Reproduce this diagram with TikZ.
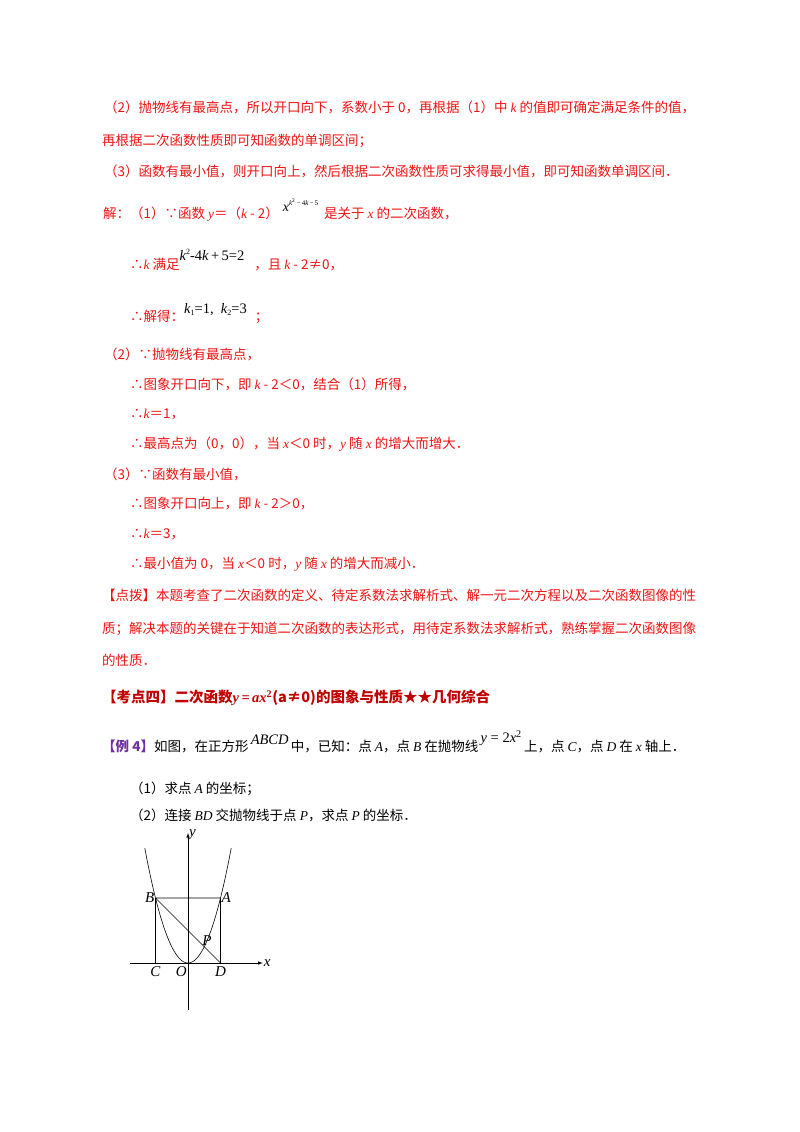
\documentclass[tikz,border=0pt]{standalone}
\usepackage{fontspec}
\setmainfont{Noto Sans CJK SC}
\newfontfamily\tm{Liberation Serif}
\newcommand\vv[1]{{\tm\itshape #1}}
\newcommand\rmn{\tm\upshape}
\definecolor{txtred}{RGB}{240,20,20}
\definecolor{headred}{RGB}{192,0,0}
\definecolor{purp}{RGB}{112,48,160}
\begin{document}
\begin{tikzpicture}[x=1pt,y=-1pt,
  t/.style={anchor=west,inner sep=0pt,font=\fontsize{13.5}{14}\selectfont},
  r/.style={t,text=txtred},
  k/.style={t,text=black},
  lab/.style={font=\tm\itshape\fontsize{15}{15}\selectfont,inner sep=1pt},
  ln/.style={line width=0.6pt}]
\fill[white] (0,0) rectangle (800,1132);
\useasboundingbox (0,0) rectangle (800,1132);
\node[r] (l1) at (104,107) {（2）抛物线有最高点，所以开口向下，系数小于 0，再根据（1）中 \vv{k} 的值即可确定满足条件的值，};
\node[r] (l2) at (102,141) {再根据二次函数性质即可知函数的单调区间；};
\node[r] (l3) at (104,171) {（3）函数有最小值，则开口向上，然后根据二次函数性质可求得最小值，即可知函数单调区间．};
\node[r] (l4) at (103,210) {解：（1）∵函数 \vv{y}＝（\vv{k} - 2）\hspace{4pt}\raisebox{7pt}{\textcolor{black}{\fontsize{14}{14}\selectfont\vv{x}\raisebox{6pt}{\fontsize{7}{7}\selectfont\vv{k}\textsuperscript{2}{\rmn\,−\,4}\vv{k}{\rmn\,−\,5}}}}\hspace{6pt}是关于 \vv{x} 的二次函数，};
\node[r] (l5) at (130,260) {∴\vv{k} 满足\raisebox{9pt}{\textcolor{black}{\fontsize{14.5}{14}\selectfont\vv{k}\raisebox{6pt}{\fontsize{8}{8}\selectfont\rmn 2}{\rmn -4}\vv{k}{\rmn\,+\,5=2}}}\hspace{10pt}，且 \vv{k} - 2≠0，};
\node[r] (l6) at (130,314) {∴解得：\raisebox{8pt}{\textcolor{black}{\fontsize{14.5}{14}\selectfont\vv{k}\raisebox{-2pt}{\fontsize{8}{8}\selectfont\rmn 1}{\rmn =1,\ \ }\vv{k}\raisebox{-2pt}{\fontsize{8}{8}\selectfont\rmn 2}{\rmn =3}}}\hspace{8pt}；};
\node[r] (m1) at (104,354) {（2）∵抛物线有最高点，};
\node[r] (m2) at (130,384) {∴图象开口向下，即 \vv{k} - 2＜0，结合（1）所得，};
\node[r] (m3) at (130,414) {∴\vv{k}＝1，};
\node[r] (m4) at (130,444) {∴最高点为（0，0），当 \vv{x}＜0 时，\vv{y} 随 \vv{x} 的增大而增大．};
\node[r] (m5) at (104,474) {（3）∵函数有最小值，};
\node[r] (m6) at (130,504) {∴图象开口向上，即 \vv{k} - 2＞0，};
\node[r] (m7) at (130,534) {∴\vv{k}＝3，};
\node[r] (m8) at (130,564) {∴最小值为 0，当 \vv{x}＜0 时，\vv{y} 随 \vv{x} 的增大而减小．};
\node[r] (d1) at (102,595) {【点拨】本题考查了二次函数的定义、待定系数法求解析式、解一元二次方程以及二次函数图像的性};
\node[r] (d2) at (102,629) {质；解决本题的关键在于知道二次函数的表达形式，用待定系数法求解析式，熟练掌握二次函数图像};
\node[r] (d3) at (102,660) {的性质．};
\node[t,text=headred,font=\bfseries\fontsize{14.5}{15}\selectfont] (h) at (102,698) {【考点四】二次函数\vv{y}\,{\rmn =}\,\vv{ax}\textsuperscript{\rmn 2}(a≠0)的图象与性质★★几何综合};
\node[k] (e1) at (102,742) {\textcolor{purp}{\bfseries【例 4】}如图，在正方形\,\raisebox{7pt}{\fontsize{14.5}{14}\selectfont\vv{ABCD}}\,中，已知：点 \vv{A}，点 \vv{B} 在抛物线\,\raisebox{9pt}{\fontsize{14.5}{14}\selectfont\vv{y}{\rmn\ = 2}\vv{x}\textsuperscript{\rmn 2}}\,上，点 \vv{C}，点 \vv{D} 在 \vv{x} 轴上．};
\node[k] (e2) at (130,789) {（1）求点 \vv{A} 的坐标；};
\node[k] (e3) at (130,815) {（2）连接 \vv{BD} 交抛物线于点 \vv{P}，求点 \vv{P} 的坐标．};
\begin{scope}[shift={(188pt,-963pt)},x=32.5pt,y=32.5pt]
  \coordinate (O) at (0,0);
  \coordinate (A) at (1,2);
  \coordinate (B) at (-1,2);
  \coordinate (C) at (-1,0);
  \coordinate (D) at (1,0);
  \coordinate (P) at (0.5,0.5);
  \coordinate (xs) at (-1.78,0);
  \coordinate (xe) at (2.3,0);
  \coordinate (ys) at (0,-1.45);
  \coordinate (ye) at (0,4.0);
  \draw[ln,-latex] (xs) -- (xe);
  \draw[ln,-latex] (ys) -- (ye);
  \draw[ln] (B) -- (A) -- (D) (B) -- (C) (B) -- (D);
  \draw[ln,domain=-1.33:1.33,samples=60,smooth] plot (\x,{2*\x*\x});
  \node[lab,anchor=east] at (B) {B};
  \node[lab,anchor=west] at (A) {A};
  \node[lab,anchor=south west] at ([xshift=-3pt]P) {P};
  \node[lab,anchor=north] at ([yshift=-2pt]C) {C};
  \node[lab,anchor=north east] at ([yshift=-2pt]O) {O};
  \node[lab,anchor=north] at ([yshift=-2pt]D) {D};
  \node[lab,anchor=west] at (xe) {x};
  \node[lab,anchor=west] at ([yshift=-2pt]ye) {y};
\end{scope}
\end{tikzpicture}
\end{document}
